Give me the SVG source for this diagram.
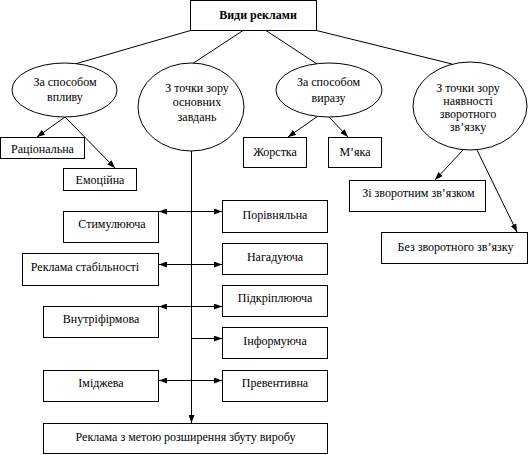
<svg xmlns="http://www.w3.org/2000/svg" width="529" height="455" viewBox="0 0 529 455">
<defs>
<marker id="ah" markerWidth="8" markerHeight="6" refX="8" refY="3" orient="auto-start-reverse" markerUnits="userSpaceOnUse">
<path d="M0,0 L8,3 L0,6 z" fill="#000"/>
</marker>
<style>
rect,ellipse{fill:#fff;stroke:#000;stroke-width:1}
text{font-family:'Liberation Serif','DejaVu Serif',serif;font-size:12px;fill:#000;text-anchor:middle}
.b{font-weight:bold}
#connectors line{stroke:#000;stroke-width:1}
.a{marker-end:url(#ah)}
.d{marker-start:url(#ah);marker-end:url(#ah)}
</style>
</defs>
<rect x="0" y="0" width="529" height="455" style="fill:#fff;stroke:none"/>
<g id="connectors">
<line x1="190.5" y1="30.5" x2="75" y2="64"/>
<line x1="243" y1="30.5" x2="192" y2="64"/>
<line x1="266" y1="30.5" x2="317" y2="64"/>
<line x1="316.5" y1="30.5" x2="452" y2="64"/>
<line class="a" x1="65" y1="117" x2="37" y2="137"/>
<line class="a" x1="65" y1="117" x2="115" y2="168"/>
<line class="a" x1="318" y1="116" x2="288" y2="137"/>
<line class="a" x1="328" y1="116" x2="348" y2="137"/>
<line class="a" x1="463" y1="150" x2="435" y2="180"/>
<line class="a" x1="477" y1="150" x2="517" y2="232"/>
<line class="a" x1="191.5" y1="151" x2="191.5" y2="423"/>
<line class="d" x1="159" y1="211.5" x2="222" y2="211.5"/>
<line class="d" x1="159" y1="264.5" x2="222" y2="264.5"/>
<line class="d" x1="159" y1="306.5" x2="222" y2="306.5"/>
<line class="a" x1="191.5" y1="338.5" x2="222" y2="338.5"/>
<line class="d" x1="159" y1="380.5" x2="222" y2="380.5"/>
</g>
<g id="root"><rect x="190.5" y="0.5" width="126" height="30"/><text class="b" x="258" y="19">Види реклами</text></g>
<g id="e1"><ellipse cx="64.5" cy="90" rx="52.5" ry="27"/><text x="65" y="86">За способом</text><text x="65" y="101">впливу</text></g>
<g id="e2"><ellipse cx="191" cy="107" rx="53" ry="44"/><text x="197" y="92">З точки зору</text><text x="197" y="106">основних</text><text x="197" y="121">завдань</text></g>
<g id="e3"><ellipse cx="329" cy="90" rx="53" ry="27"/><text x="328.5" y="86">За способом</text><text x="328.5" y="102">виразу</text></g>
<g id="e4"><ellipse cx="470" cy="106" rx="57" ry="44"/><text x="468" y="92">З точки зору</text><text x="468" y="105">наявності</text><text x="468" y="118">зворотного</text><text x="468" y="131">зв’язку</text></g>
<g id="n-rac"><rect x="0.5" y="137.5" width="84" height="21"/><text x="42.5" y="153">Раціональна</text></g>
<g id="n-emo"><rect x="63.5" y="168.5" width="73" height="22"/><text x="100" y="184">Емоційна</text></g>
<g id="n-zhor"><rect x="243.5" y="137.5" width="63" height="30"/><text x="275" y="156">Жорстка</text></g>
<g id="n-mya"><rect x="328.5" y="137.5" width="53" height="30"/><text x="355" y="156">М’яка</text></g>
<g id="n-zi"><rect x="349.5" y="180.5" width="136" height="31"/><text x="418.5" y="197">Зі зворотним зв’язком</text></g>
<g id="n-bez"><rect x="381.5" y="232.5" width="146" height="31"/><text x="455.5" y="251">Без зворотного зв’язку</text></g>
<g id="n-stym"><rect x="63.5" y="211.5" width="95" height="31"/><text x="112" y="228">Стимулююча</text></g>
<g id="n-stab"><rect x="22.5" y="253.5" width="136" height="32"/><text x="85" y="271">Реклама стабільності</text></g>
<g id="n-vnut"><rect x="43.5" y="306.5" width="115" height="31"/><text x="101" y="323">Внутріфірмова</text></g>
<g id="n-imid"><rect x="43.5" y="370.5" width="115" height="31"/><text x="101" y="387">Іміджева</text></g>
<g id="n-por"><rect x="222.5" y="200.5" width="105" height="32"/><text x="275" y="219">Порівняльна</text></g>
<g id="n-nag"><rect x="222.5" y="243.5" width="105" height="31"/><text x="275" y="261">Нагадуюча</text></g>
<g id="n-pid"><rect x="222.5" y="285.5" width="105" height="31"/><text x="275" y="302">Підкріплююча</text></g>
<g id="n-inf"><rect x="222.5" y="327.5" width="105" height="31"/><text x="275" y="345">Інформуюча</text></g>
<g id="n-prev"><rect x="222.5" y="370.5" width="105" height="31"/><text x="275" y="387">Превентивна</text></g>
<g id="n-bottom"><rect x="43.5" y="423.5" width="284" height="30"/><text x="185.5" y="441">Реклама з метою розширення збуту виробу</text></g>
</svg>
